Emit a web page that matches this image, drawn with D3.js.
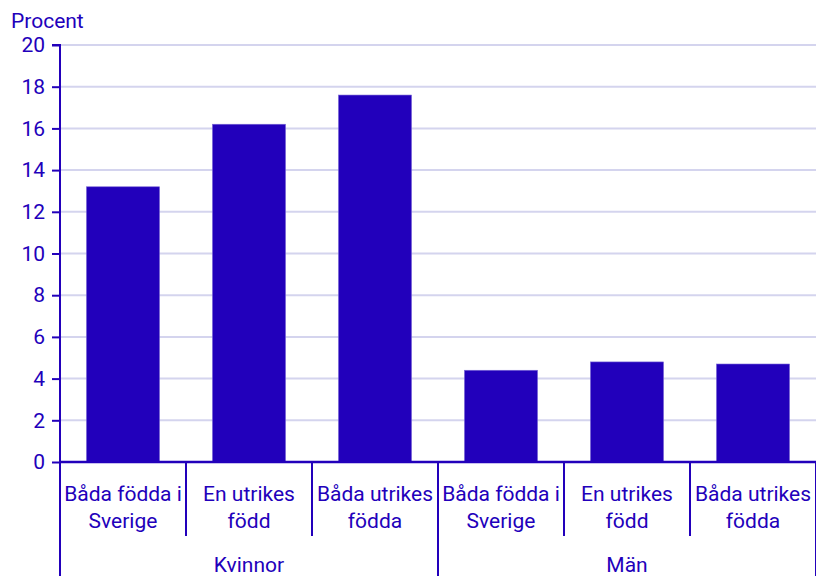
<!DOCTYPE html>
<html><head><meta charset="utf-8">
<script src="https://cdn.jsdelivr.net/npm/d3@7"></script>
<style>body{margin:0;background:#fff}svg text{font-family:Roboto,"Noto Sans",sans-serif;fill:#2200bb}</style>
</head><body><svg id="c" width="816" height="576"></svg>
<script>
const groups = ["Kvinnor", "Män"];
const categories = [["Båda födda i", "Sverige"], ["En utrikes", "född"], ["Båda utrikes", "födda"]];
const kvinnor = [13.2, 16.2, 17.6];
const man = [4.4, 4.8, 4.7];
const yTicks = [0, 2, 4, 6, 8, 10, 12, 14, 16, 18, 20];
const yTitle = "Procent";

const seriesByGroup = [kvinnor, man];
const data = [];
groups.forEach((g, gi) => categories.forEach((c, ci) => data.push({g, gi, ci, c, key: g + "|" + ci, v: seriesByGroup[gi][ci]})));

const W = 816, H = 576, L = 60, R = 816, T = 45, B = 462;
const col = "#2200bb";
const fs = 21;
const svg = d3.select("#c");
const x = d3.scaleBand().domain(data.map(d => d.key)).range([L, R]).paddingInner(0).paddingOuter(0);
const xb = d3.scaleBand().domain(data.map(d => d.key)).range([L, R]).paddingInner(0.42).paddingOuter(0.21);
const y = d3.scaleLinear().domain([0, 20]).range([B, T]);

// gridlines
svg.append("g").selectAll("line").data(yTicks.filter(t => t > 0)).join("line")
  .attr("x1", L).attr("x2", R).attr("y1", d => y(d)).attr("y2", d => y(d))
  .attr("stroke", "#d4d4ee").attr("stroke-width", 2);

// bars
svg.append("g").selectAll("rect").data(data).join("rect")
  .attr("x", d => xb(d.key)).attr("width", xb.bandwidth())
  .attr("y", d => y(d.v)).attr("height", d => y(0) - y(d.v))
  .attr("fill", col).attr("stroke", "#7a66d6").attr("stroke-width", 0.6);

// y axis
const ya = d3.axisLeft(y).tickValues(yTicks).tickSize(8).tickPadding(7).tickFormat(d3.format("d"));
const yg = svg.append("g").attr("transform", `translate(${L},0)`).call(ya);
yg.select(".domain").attr("stroke", col).attr("stroke-width", 2).attr("d", `M-8,${T}H0V${B}`);
yg.selectAll(".tick line").attr("stroke", col).attr("stroke-width", 2);
yg.selectAll(".tick text").attr("font-size", fs).style("fill", col).attr("font-family", "Roboto");

// x axis line
svg.append("line").attr("x1", L).attr("x2", R).attr("y1", B).attr("y2", B).attr("stroke", col).attr("stroke-width", 2.5);

// category separators
const catBounds = data.map(d => x(d.key)).concat([R]);
svg.append("g").selectAll("line").data(catBounds).join("line")
  .attr("x1", d => d).attr("x2", d => d).attr("y1", B).attr("y2", 536)
  .attr("stroke", col).attr("stroke-width", 2);
// group separators
const groupBounds = groups.map((g, gi) => x(g + "|0")).concat([R]);
svg.append("g").selectAll("line").data(groupBounds).join("line")
  .attr("x1", d => d).attr("x2", d => d).attr("y1", B).attr("y2", H)
  .attr("stroke", col).attr("stroke-width", 2);

// category labels
const cl = svg.append("g").selectAll("text").data(data).join("text")
  .attr("text-anchor", "middle").attr("font-size", fs)
  .attr("x", d => x(d.key) + x.bandwidth() / 2).attr("y", 501);
cl.selectAll("tspan").data(d => d.c.map(s => ({s, x: x(d.key) + x.bandwidth() / 2}))).join("tspan")
  .attr("x", d => d.x).attr("dy", (d, i) => i === 0 ? 0 : 26.5).text(d => d.s);

// group labels
svg.append("g").selectAll("text").data(groups).join("text")
  .attr("text-anchor", "middle").attr("font-size", fs)
  .attr("x", (g, gi) => (groupBounds[gi] + groupBounds[gi + 1]) / 2).attr("y", 572).text(g => g);

// y title
svg.append("text").attr("x", 11).attr("y", 28).attr("font-size", fs).text(yTitle);
</script></body></html>
